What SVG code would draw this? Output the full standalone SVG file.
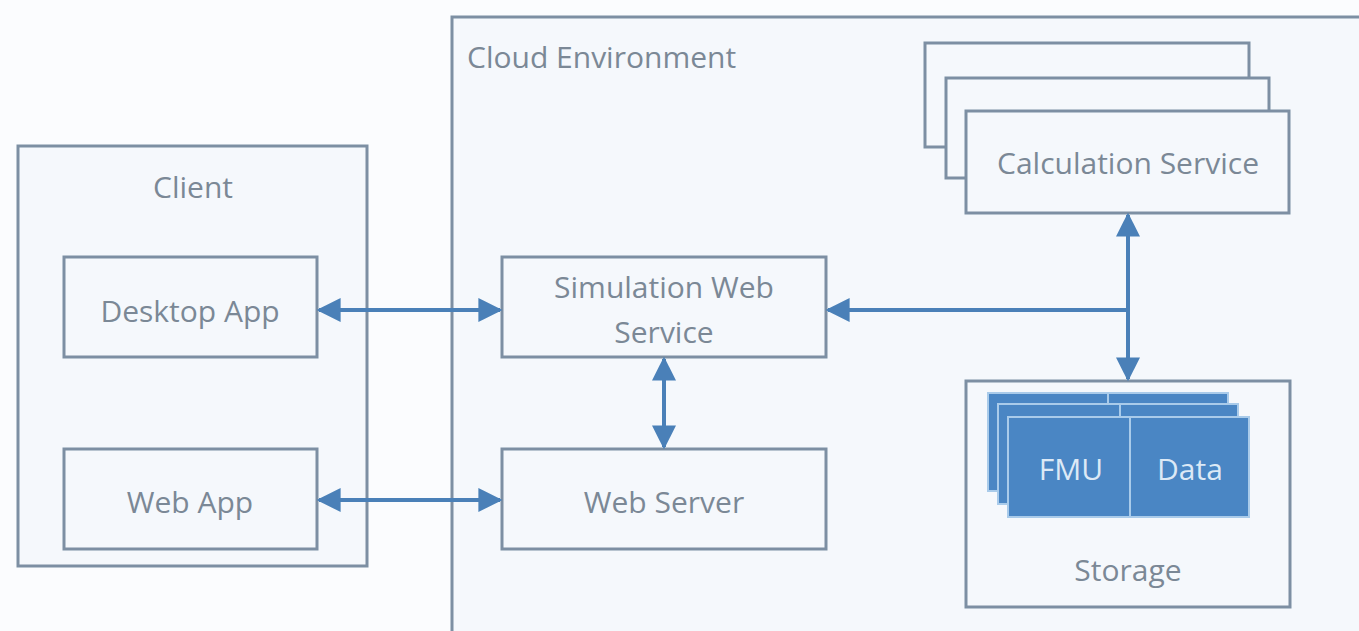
<svg xmlns="http://www.w3.org/2000/svg" width="1359" height="631" viewBox="0 0 1359 631">
<defs>
<marker id="ah" viewBox="0 0 10 10" refX="9" refY="5" markerWidth="24" markerHeight="24" markerUnits="userSpaceOnUse" orient="auto-start-reverse">
<path d="M0,0 L10,5 L0,10 Z" fill="#4a80b8"/>
</marker>
<style>
.box{fill:#f5f8fc;stroke:#7d8fa3;stroke-width:3}
.lbl{font-family:"Open Sans","Noto Sans","DejaVu Sans",sans-serif;font-size:30px;fill:#7b8896;text-anchor:middle}
.blk{fill:#4a86c4;stroke:#a9cbea;stroke-width:2}
.wl{font-family:"Open Sans","Noto Sans","DejaVu Sans",sans-serif;font-size:30px;fill:#dce9f6;text-anchor:middle}
.con{stroke:#4a80b8;stroke-width:4;fill:none;marker-start:url(#ah);marker-end:url(#ah)}
</style>
</defs>
<rect width="1359" height="631" fill="#fbfcfe"/>
<g id="client">
<rect class="box" x="18" y="146" width="349" height="420"/>
<text class="lbl" x="193" y="198">Client</text>
</g>
<g id="cloud">
<rect class="box" x="452" y="17" width="920" height="630"/>
<text class="lbl" x="467" y="68" style="text-anchor:start">Cloud Environment</text>
</g>
<g id="desktop-app">
<rect class="box" x="64" y="257" width="253" height="100"/>
<text class="lbl" x="190" y="322">Desktop App</text>
</g>
<g id="web-app">
<rect class="box" x="64" y="449" width="253" height="100"/>
<text class="lbl" x="190" y="513">Web App</text>
</g>
<g id="sim-web-service">
<rect class="box" x="502" y="257" width="324" height="100"/>
<text class="lbl" x="664" y="298">Simulation Web</text>
<text class="lbl" x="664" y="343">Service</text>
</g>
<g id="web-server">
<rect class="box" x="502" y="449" width="324" height="100"/>
<text class="lbl" x="664" y="513">Web Server</text>
</g>
<g id="calc-service">
<rect class="box" x="925" y="43" width="324" height="104"/>
<rect class="box" x="946" y="78" width="323" height="100"/>
<rect class="box" x="966" y="111" width="323" height="102"/>
<text class="lbl" x="1128" y="174">Calculation Service</text>
</g>
<g id="storage">
<rect class="box" x="966" y="381" width="324" height="226"/>
<rect class="blk" x="988" y="393" width="240" height="98"/>
<line x1="1108" y1="393" x2="1108" y2="404" stroke="#a9cbea" stroke-width="2"/>
<rect class="blk" x="998" y="404" width="240" height="100"/>
<line x1="1120" y1="404" x2="1120" y2="417" stroke="#a9cbea" stroke-width="2"/>
<rect class="blk" x="1008" y="417" width="241" height="100"/>
<line x1="1130" y1="417" x2="1130" y2="517" stroke="#a9cbea" stroke-width="2"/>
<text class="wl" x="1071" y="480">FMU</text>
<text class="wl" x="1190" y="480">Data</text>
<text class="lbl" x="1128" y="581">Storage</text>
</g>
<g id="connectors">
<line class="con" x1="319" y1="310" x2="500" y2="310"/>
<line class="con" x1="319" y1="500" x2="500" y2="500"/>
<line class="con" x1="664" y1="359" x2="664" y2="447"/>
<line class="con" x1="1128" y1="215" x2="1128" y2="379"/>
<path d="M1128,310 L828,310" stroke="#4a80b8" stroke-width="4" fill="none" marker-end="url(#ah)"/>
</g>
</svg>
